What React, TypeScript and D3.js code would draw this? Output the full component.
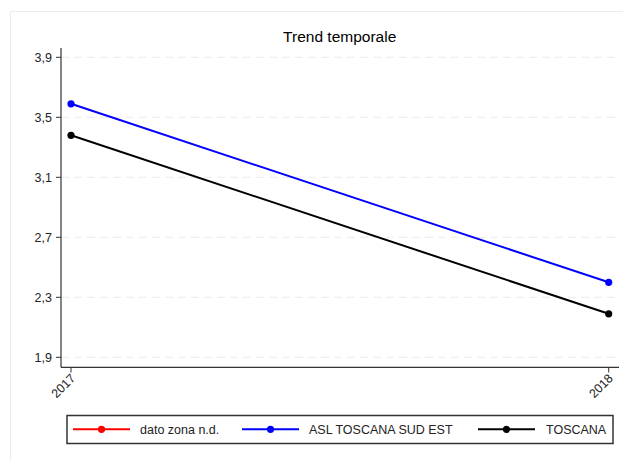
import React from "react";
import * as d3 from "d3";

const years = ["2017", "2018"];
const seriesNames = ["dato zona n.d.", "ASL TOSCANA SUD EST", "TOSCANA"];
const seriesColors = ["#ff0000", "#0000ff", "#000000"];
const zonaValues: (number | null)[] = [null, null];
const aslValues: (number | null)[] = [3.59, 2.4];
const toscanaValues: (number | null)[] = [3.38, 2.19];
const yTicks = [1.9, 2.3, 2.7, 3.1, 3.5, 3.9];
const title = "Trend temporale";

const allSeries = [zonaValues, aslValues, toscanaValues];

export default function App() {
  const W = 623, H = 461;
  const x = d3.scalePoint<string>().domain(years).range([71, 608.7]);
  const y = d3.scaleLinear().domain([1.9, 3.9]).range([357.3, 57.3]);
  const yTop = y.invert(48);
  const yBot = y.invert(367.3);
  const font = "Arial, 'Liberation Sans', sans-serif";
  const fmt = (v: number) => v.toFixed(1).replace(".", ",");
  const line = d3
    .line<number | null>()
    .defined((d) => d != null)
    .x((_, i) => x(years[i])!)
    .y((d) => y(d as number));

  const legendItems = [
    { lx: 73, tx: 140 },
    { lx: 242, tx: 309 },
    { lx: 478, tx: 546 },
  ];

  return (
    <svg width={W} height={H} style={{ position: "absolute", left: 0, top: 0 }} fontFamily={font}>
      <rect x={0} y={0} width={W} height={H} fill="#fff" />
      <rect x={10.5} y={11.5} width={W + 10} height={H + 10} fill="none" stroke="#e9eff0" strokeWidth={1} />
      <text x={339.7} y={41.5} textAnchor="middle" fontSize={15.5} fill="#000">{title}</text>
      {yTicks.map((t) => (
        <g key={t}>
          <line x1={61} x2={617} y1={y(t)} y2={y(t)} stroke="#ececec" strokeDasharray="8,5" strokeWidth={1} />
          <line x1={56} x2={61} y1={y(t)} y2={y(t)} stroke="#333" strokeWidth={1} />
          <text x={52} y={y(t)} dy="0.35em" textAnchor="end" fontSize={12.5} fill="#222">{fmt(t)}</text>
        </g>
      ))}
      <line x1={61} x2={61} y1={y(yTop)} y2={y(yBot)} stroke="#333" strokeWidth={1.2} />
      <line x1={61} x2={619} y1={y(yBot)} y2={y(yBot)} stroke="#333" strokeWidth={1.2} />
      {years.map((yr) => (
        <g key={yr}>
          <line x1={x(yr)!} x2={x(yr)!} y1={367.3} y2={372.5} stroke="#333" strokeWidth={1} />
          <text
            transform={`translate(${x(yr)! + 2},${376}) rotate(-45)`}
            textAnchor="end"
            dy="0.35em"
            fontSize={12.5}
            fill="#222"
          >
            {yr}
          </text>
        </g>
      ))}
      {allSeries.map((vals, si) => (
        <g key={si}>
          <path d={line(vals) || ""} fill="none" stroke={seriesColors[si]} strokeWidth={2} />
          {vals.map((v, i) =>
            v == null ? null : (
              <circle key={i} cx={x(years[i])!} cy={y(v)} r={3.6} fill={seriesColors[si]} />
            )
          )}
        </g>
      ))}
      <rect x={67} y={415.5} width={546} height={28} fill="#fff" stroke="#333" strokeWidth={1.5} />
      {legendItems.map((it, i) => (
        <g key={i}>
          <line x1={it.lx} x2={it.lx + 57} y1={429.3} y2={429.3} stroke={seriesColors[i]} strokeWidth={2} />
          <circle cx={it.lx + 28.5} cy={429.3} r={3.6} fill={seriesColors[i]} />
          <text x={it.tx} y={429.3} dy="0.35em" fontSize={12.5} fill="#222">{seriesNames[i]}</text>
        </g>
      ))}
    </svg>
  );
}
